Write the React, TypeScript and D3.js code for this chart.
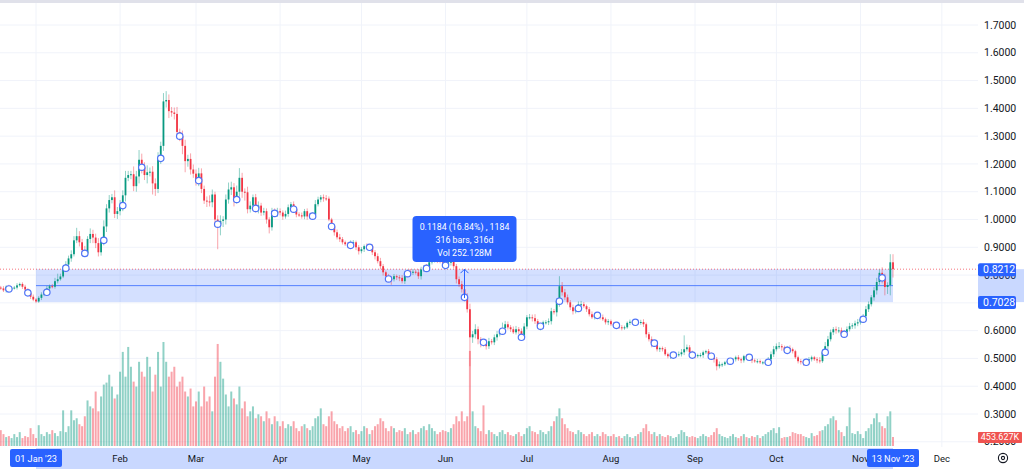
import React from 'react';
import * as d3 from 'd3';

// daily closes, 19 Dec 2022 -> 13 Nov 2023
const closeDec = [0.752, 0.745, 0.758, 0.75, 0.752, 0.755, 0.763, 0.768, 0.758, 0.748, 0.736, 0.722, 0.712];
const closeJan = [0.705, 0.718, 0.73, 0.738, 0.752, 0.76, 0.758, 0.778, 0.785, 0.795, 0.825, 0.838, 0.86, 0.875, 0.925, 0.94, 0.918, 0.89, 0.878, 0.93, 0.948, 0.935, 0.915, 0.882, 0.925, 0.975, 1.04, 1.07, 1.08, 1.02, 1.03];
const closeFeb = [1.05, 1.087, 1.15, 1.16, 1.163, 1.12, 1.155, 1.215, 1.188, 1.16, 1.17, 1.172, 1.13, 1.11, 1.22, 1.265, 1.425, 1.43, 1.39, 1.385, 1.38, 1.315, 1.3, 1.265, 1.21, 1.218, 1.18, 1.165];
const closeMar = [1.14, 1.166, 1.11, 1.068, 1.065, 1.062, 1.09, 1.0, 0.983, 0.995, 1.0, 1.072, 1.108, 1.116, 1.072, 1.1, 1.15, 1.1, 1.098, 1.037, 1.05, 1.08, 1.04, 1.05, 1.025, 1.03, 1.0, 0.972, 1.03, 1.022, 1.03];
const closeApr = [1.025, 1.011, 1.02, 1.044, 1.055, 1.037, 1.018, 1.015, 1.011, 1.03, 1.011, 1.012, 1.018, 1.055, 1.072, 1.08, 1.076, 1.075, 1.0, 0.975, 0.954, 0.936, 0.929, 0.918, 0.911, 0.907, 0.915, 0.918, 0.9, 0.886];
const closeMay = [0.893, 0.904, 0.9, 0.904, 0.882, 0.868, 0.85, 0.832, 0.81, 0.796, 0.786, 0.785, 0.796, 0.792, 0.79, 0.778, 0.805, 0.814, 0.81, 0.812, 0.81, 0.796, 0.82, 0.828, 0.824, 0.846, 0.855, 0.862, 0.855, 0.85, 0.845];
const closeJun = [0.835, 0.846, 0.848, 0.832, 0.785, 0.767, 0.749, 0.72, 0.677, 0.576, 0.587, 0.605, 0.569, 0.56, 0.558, 0.544, 0.562, 0.558, 0.576, 0.587, 0.598, 0.609, 0.623, 0.612, 0.605, 0.594, 0.605, 0.598, 0.576, 0.615];
const closeJul = [0.648, 0.648, 0.645, 0.634, 0.616, 0.616, 0.63, 0.63, 0.634, 0.67, 0.666, 0.706, 0.76, 0.738, 0.72, 0.702, 0.684, 0.67, 0.68, 0.695, 0.695, 0.688, 0.677, 0.659, 0.648, 0.655, 0.655, 0.648, 0.641, 0.63, 0.634];
const closeAug = [0.623, 0.619, 0.619, 0.612, 0.609, 0.612, 0.628, 0.632, 0.63, 0.633, 0.629, 0.631, 0.623, 0.587, 0.569, 0.555, 0.555, 0.533, 0.537, 0.533, 0.515, 0.508, 0.512, 0.512, 0.512, 0.515, 0.522, 0.533, 0.54, 0.522, 0.512];
const closeSep = [0.508, 0.512, 0.512, 0.522, 0.526, 0.515, 0.508, 0.497, 0.472, 0.479, 0.479, 0.486, 0.49, 0.49, 0.497, 0.504, 0.497, 0.493, 0.508, 0.504, 0.504, 0.493, 0.49, 0.49, 0.486, 0.486, 0.486, 0.497, 0.515, 0.533];
const closeOct = [0.544, 0.544, 0.54, 0.529, 0.537, 0.533, 0.526, 0.504, 0.49, 0.488, 0.486, 0.493, 0.497, 0.504, 0.497, 0.493, 0.49, 0.522, 0.544, 0.569, 0.594, 0.605, 0.601, 0.601, 0.587, 0.594, 0.605, 0.616, 0.619, 0.626, 0.63];
const closeNov = [0.641, 0.652, 0.677, 0.695, 0.72, 0.745, 0.775, 0.808, 0.79, 0.757, 0.764, 0.846, 0.8212];

// volume in thousands
const volDec = [800, 600, 450, 500, 400, 600, 450, 700, 400, 500, 450, 900, 600];
const volJan = [400, 1050, 600, 500, 700, 600, 800, 650, 500, 750, 1800, 700, 1000, 1800, 1300, 1400, 1100, 1000, 1500, 2300, 2000, 1900, 2750, 1750, 2500, 3100, 3200, 3600, 3000, 2400, 2600];
const volFeb = [3750, 4750, 3500, 5000, 4000, 3250, 3000, 4250, 3750, 3500, 4500, 4000, 2750, 3600, 4750, 3000, 5250, 4250, 3500, 3750, 4000, 3000, 3250, 3500, 2750, 2500, 2900, 2000];
const volMar = [2250, 2750, 2000, 3000, 2250, 2500, 1750, 3500, 5150, 4250, 3400, 2600, 2000, 2750, 2400, 2100, 3000, 1900, 2250, 1500, 1750, 2000, 1400, 1600, 1500, 1250, 1750, 1400, 1100, 1500, 1250];
const volApr = [1000, 1250, 900, 1100, 1000, 1250, 900, 750, 1000, 1100, 900, 800, 1000, 1400, 1500, 1900, 1100, 1000, 1500, 1750, 1250, 1100, 900, 1000, 750, 900, 1000, 700, 800, 600];
const volMay = [750, 1000, 900, 600, 800, 1000, 1100, 1400, 1250, 900, 750, 1000, 900, 700, 800, 750, 900, 600, 700, 800, 600, 700, 900, 1000, 800, 1100, 900, 750, 600, 700, 800];
const volJun = [750, 700, 900, 1100, 1500, 1250, 1750, 1250, 1500, 4800, 1750, 1000, 900, 750, 2050, 600, 800, 700, 600, 500, 700, 800, 600, 700, 550, 500, 600, 700, 500, 600];
const volJul = [900, 1000, 750, 700, 600, 800, 700, 600, 750, 1000, 1250, 1500, 1900, 1400, 1100, 900, 750, 700, 600, 800, 700, 600, 500, 600, 700, 500, 600, 500, 700, 600, 500];
const volAug = [500, 600, 450, 500, 400, 500, 600, 450, 400, 500, 600, 700, 900, 1100, 750, 600, 700, 500, 600, 500, 450, 550, 500, 400, 450, 600, 800, 700, 500, 450, 500];
const volSep = [450, 400, 500, 600, 500, 450, 550, 700, 900, 600, 500, 450, 400, 500, 600, 450, 400, 500, 600, 450, 400, 500, 450, 550, 400, 500, 600, 700, 800, 900];
const volOct = [650, 950, 400, 450, 450, 500, 700, 650, 600, 600, 500, 450, 400, 650, 500, 550, 750, 800, 1000, 1100, 1400, 1500, 1300, 800, 700, 500, 1000, 1950, 650, 600, 750];
const volNov = [600, 400, 750, 900, 1100, 1400, 1650, 1200, 1000, 900, 1500, 1750, 453.627];

// wick lengths above / below the body, in thousandths
const wickUp = [
  6, 8, 5, 7, 4, 6, 8, 5, 6, 7, 5, 6, 8,
  5, 6, 8, 7, 9, 6, 8, 12, 20, 10, 8, 12, 10, 14, 15, 30, 18, 12, 15, 10, 20, 15, 14, 18, 10, 22, 15, 18, 12, 25, 15,
  20, 18, 25, 15, 12, 28, 20, 35, 22, 18, 25, 15, 20, 18, 22, 15, 30, 32, 20, 15, 18, 25, 12, 20, 22, 15, 20, 18,
  15, 20, 18, 12, 15, 22, 18, 10, 15, 20, 12, 18, 25, 20, 15, 22, 35, 18, 12, 20, 15, 10, 12, 15, 10, 12, 10, 8, 12, 10, 12,
  10, 8, 12, 10, 8, 10, 6, 8, 10, 8, 10, 12, 8, 15, 10, 8, 10, 12, 8, 6, 8, 10, 12, 8, 6, 8, 10, 8, 6, 8,
  8, 6, 10, 8, 6, 8, 10, 12, 8, 6, 8, 10, 8, 6, 8, 10, 8, 6, 8, 10, 8, 12, 10, 8, 12, 15, 10, 12, 8, 10, 12,
  10, 8, 12, 10, 8, 10, 12, 14, 15, 20, 12, 18, 10, 8, 6, 10, 12, 8, 10, 12, 8, 20, 12, 10, 8, 10, 12, 8, 10, 12,
  8, 12, 10, 14, 8, 10, 6, 8, 10, 12, 8, 10, 36, 15, 12, 10, 8, 10, 8, 10, 12, 8, 6, 8, 10, 8, 6, 8, 10, 6, 8,
  6, 8, 5, 6, 8, 6, 5, 8, 6, 5, 6, 8, 10, 6, 8, 10, 6, 8, 5, 6, 8, 6, 5, 6, 8, 10, 12, 50, 10, 8, 6,
  6, 5, 8, 6, 5, 8, 6, 5, 8, 10, 6, 5, 6, 8, 5, 6, 8, 6, 5, 6, 8, 5, 6, 8, 6, 5, 6, 8, 10, 12,
  10, 15, 8, 6, 8, 10, 6, 5, 6, 8, 5, 6, 8, 6, 5, 8, 12, 10, 15, 12, 10, 8, 10, 12, 10, 8, 10, 12, 8, 10, 12,
  10, 8, 12, 10, 8, 12, 15, 12, 20, 15, 10, 29, 29,
];
const wickDn = [
  5, 6, 8, 5, 6, 4, 7, 5, 8, 6, 5, 8, 6,
  6, 5, 8, 6, 5, 8, 6, 7, 8, 5, 6, 8, 10, 12, 8, 10, 15, 20, 12, 10, 15, 20, 18, 15, 12, 18, 20, 15, 12, 15, 18,
  15, 20, 22, 12, 15, 18, 20, 25, 22, 18, 30, 15, 40, 25, 15, 20, 18, 22, 25, 15, 20, 22, 18, 30, 40, 20, 18, 15,
  18, 20, 15, 12, 20, 15, 18, 25, 90, 40, 22, 18, 15, 20, 25, 15, 18, 22, 30, 15, 12, 10, 15, 18, 12, 10, 15, 22, 12, 10, 12,
  10, 12, 8, 10, 12, 8, 10, 6, 8, 10, 12, 8, 10, 6, 8, 10, 12, 8, 6, 10, 12, 8, 10, 8, 6, 10, 8, 6, 10, 12,
  8, 10, 6, 8, 10, 12, 8, 10, 12, 15, 10, 20, 8, 10, 12, 8, 10, 6, 8, 10, 8, 10, 12, 8, 6, 10, 8, 10, 12, 8, 10,
  8, 10, 12, 8, 15, 10, 12, 15, 12, 104, 20, 15, 18, 20, 15, 12, 10, 8, 10, 12, 8, 10, 12, 8, 10, 6, 8, 10, 12, 8,
  10, 8, 12, 10, 8, 15, 10, 8, 10, 12, 8, 15, 20, 12, 10, 8, 10, 12, 8, 10, 8, 6, 10, 8, 6, 8, 10, 8, 6, 8, 10,
  6, 8, 10, 6, 8, 6, 5, 8, 6, 5, 6, 8, 10, 12, 8, 15, 10, 8, 10, 8, 6, 8, 10, 6, 8, 6, 8, 10, 8, 6, 8,
  8, 6, 8, 10, 6, 8, 10, 12, 15, 8, 10, 6, 8, 6, 5, 8, 6, 10, 8, 6, 8, 10, 6, 8, 6, 8, 10, 6, 8, 10,
  8, 10, 12, 8, 6, 10, 8, 6, 8, 10, 12, 8, 6, 8, 6, 10, 8, 6, 10, 12, 8, 10, 12, 10, 8, 10, 12, 8, 10, 12, 10,
  8, 10, 12, 10, 8, 12, 15, 10, 20, 30, 25, 37, 30,
];

const priceTicks = [0.2, 0.3, 0.4, 0.5, 0.6, 0.7, 0.8, 0.9, 1.0, 1.1, 1.2, 1.3, 1.4, 1.5, 1.6, 1.7];
const rangeLow = 0.7028;
const rangeHigh = 0.8212;
const lastVolumeLabel = '453.627K';
const tooltipLines = ['0.1184 (16.84%) , 1184', '316 bars, 316d', 'Vol 252.128M'];
const rangeStartLabel = "01 Jan '23";
const rangeEndLabel = "13 Nov '23";

const closes = [...closeDec, ...closeJan, ...closeFeb, ...closeMar, ...closeApr, ...closeMay, ...closeJun, ...closeJul, ...closeAug, ...closeSep, ...closeOct, ...closeNov];
const volumes = [...volDec, ...volJan, ...volFeb, ...volMar, ...volApr, ...volMay, ...volJun, ...volJul, ...volAug, ...volSep, ...volOct, ...volNov];

const DAY = 86400000;
const firstDay = Date.UTC(2022, 11, 19);

const candles = closes.map((c, i) => {
  const o = i === 0 ? 0.755 : closes[i - 1];
  return {
    date: new Date(firstDay + i * DAY),
    o,
    c,
    h: Math.max(o, c) + wickUp[i] / 1000,
    l: Math.min(o, c) - wickDn[i] / 1000,
    v: volumes[i],
    up: c >= o,
  };
});

const UP = '#089981';
const DOWN = '#f23645';
const BLUE = '#2962ff';
const FONT = 'Roboto, "Liberation Sans", sans-serif';

const App: React.FC = () => {
  const plotRight = 978;
  const rangeStart = new Date(Date.UTC(2023, 0, 1));
  const rangeEnd = new Date(Date.UTC(2023, 10, 13));

  const x = d3.scaleUtc().domain([rangeStart, rangeEnd]).range([36, 893]);
  const y = d3.scaleLinear().domain([0.3, 1.7]).range([414, 25]);
  const yv = d3.scaleLinear().domain([0, 5300]).range([446, 341]);

  // Jan tick sits under the range start label, so it is left out
  const months = d3.utcMonth.range(new Date(firstDay), new Date(Date.UTC(2024, 0, 1)));
  const monthFmt = d3.utcFormat('%b');
  const bodyW = 1.8;
  const volW = 2.0;

  const x0 = x(rangeStart);
  const x1 = x(rangeEnd);
  const midX = (x0 + x1) / 2;
  const yHi = y(rangeHigh);
  const yLo = y(rangeLow);
  const lastVolY = yv(volumes[volumes.length - 1]);

  return (
    <svg
      width={1024}
      height={469}
      style={{ position: 'absolute', left: 0, top: 0, background: '#fff', fontFamily: FONT }}
    >
      <rect x={0} y={0} width={1024} height={469} fill="#ffffff" />
      {/* grid */}
      {months.map((m) => (
        <line key={+m} x1={x(m)} x2={x(m)} y1={3} y2={447} stroke="#f0f3fa" strokeWidth={1} />
      ))}
      {priceTicks.map((t) => (
        <line key={t} x1={0} x2={plotRight} y1={y(t)} y2={y(t)} stroke="#f0f3fa" strokeWidth={1} />
      ))}

      {/* volume */}
      {candles.map((d, i) => (
        <rect
          key={'v' + i}
          x={x(d.date) - volW / 2}
          y={yv(d.v)}
          width={volW}
          height={446 - yv(d.v)}
          fill={d.up ? UP : DOWN}
          fillOpacity={0.45}
        />
      ))}

      {/* measured range */}
      <rect x={x0} y={yHi} width={x1 - x0} height={yLo - yHi} fill={BLUE} fillOpacity={0.2} />
      <line x1={x0} x2={x1} y1={(yHi + yLo) / 2} y2={(yHi + yLo) / 2} stroke={BLUE} strokeOpacity={0.75} strokeWidth={1} />

      {/* last price line */}
      <line x1={0} x2={plotRight} y1={y(rangeHigh)} y2={y(rangeHigh)} stroke={DOWN} strokeOpacity={0.7} strokeWidth={1} strokeDasharray="1 2" />

      {/* candles */}
      {candles.map((d, i) => {
        const cx = x(d.date);
        const top = y(Math.max(d.o, d.c));
        const bot = y(Math.min(d.o, d.c));
        const col = d.up ? UP : DOWN;
        return (
          <g key={'c' + i}>
            <line x1={cx} x2={cx} y1={y(d.h)} y2={y(d.l)} stroke={col} strokeOpacity={0.45} strokeWidth={1} />
            <rect x={cx - bodyW / 2} y={top} width={bodyW} height={Math.max(1, bot - top)} fill={col} />
          </g>
        );
      })}

      {/* weekly markers */}
      {candles
        .filter((_, i) => i % 7 === 3)
        .map((d, i) => (
          <circle
            key={'m' + i}
            cx={x(d.date)}
            cy={y(Math.min(d.o, d.c))}
            r={3.2}
            fill="#ffffff"
            stroke="#4f74f7"
            strokeWidth={1.2}
          />
        ))}

      {/* range arrow */}
      <line x1={midX} x2={midX} y1={yLo - 4} y2={yHi} stroke={BLUE} strokeWidth={1} />
      <polyline
        points={`${midX - 4},${yHi + 4} ${midX},${yHi} ${midX + 4},${yHi + 4}`}
        fill="none"
        stroke={BLUE}
        strokeWidth={1}
      />

      {/* tooltip */}
      <rect x={midX - 52} y={216} width={104} height={46} rx={4} fill={BLUE} />
      {tooltipLines.map((t, i) => (
        <text key={t} x={midX} y={230 + i * 13} fill="#ffffff" fontSize={8.8} textAnchor="middle">
          {t}
        </text>
      ))}

      {/* price axis */}
      {priceTicks.map((t) => (
        <text key={'p' + t} x={984} y={y(t) + 3.6} fill="#131722" fontSize={10.5}>
          {t.toFixed(4)}
        </text>
      ))}
      <rect x={plotRight} y={yHi} width={1024 - plotRight} height={yLo - yHi} fill={BLUE} fillOpacity={0.25} />
      <rect x={plotRight} y={yHi - 6} width={38} height={13} rx={2} fill={BLUE} />
      <text x={983} y={yHi + 3.8} fill="#ffffff" fontSize={10.5}>
        {rangeHigh.toFixed(4)}
      </text>
      <rect x={plotRight} y={yLo - 6} width={38} height={13} rx={2} fill={BLUE} />
      <text x={983} y={yLo + 3.8} fill="#ffffff" fontSize={10.5}>
        {rangeLow.toFixed(4)}
      </text>
      <rect x={plotRight} y={lastVolY - 5} width={44} height={11} rx={1} fill="#ef5350" />
      <text x={1000} y={lastVolY + 3.4} fill="#ffffff" fontSize={9} textAnchor="middle">
        {lastVolumeLabel}
      </text>

      {/* time axis */}
      <rect x={x0} y={448} width={x1 - x0} height={21} fill={BLUE} fillOpacity={0.25} />
      {months
        .filter((m) => m.getUTCMonth() !== 0)
        .map((m) => (
          <text key={'t' + +m} x={x(m)} y={461.5} fill="#131722" fontSize={9.5} textAnchor="middle">
            {monthFmt(m)}
          </text>
        ))}
      <rect x={x0 - 26} y={449} width={52} height={18} rx={2} fill={BLUE} />
      <text x={x0} y={461.5} fill="#ffffff" fontSize={9.2} textAnchor="middle">
        {rangeStartLabel}
      </text>
      <rect x={x1 - 26} y={449} width={52} height={18} rx={2} fill={BLUE} />
      <text x={x1} y={461.5} fill="#ffffff" fontSize={9.2} textAnchor="middle">
        {rangeEndLabel}
      </text>

      {/* settings icon */}
      <circle cx={1003} cy={458} r={4.6} fill="none" stroke="#131722" strokeWidth={1.1} />
      <circle cx={1003} cy={458} r={1.6} fill="none" stroke="#131722" strokeWidth={1.1} />

      {/* top border */}
      <rect x={0} y={0} width={1024} height={3} fill="#e0e1ea" />
    </svg>
  );
};

export default App;
